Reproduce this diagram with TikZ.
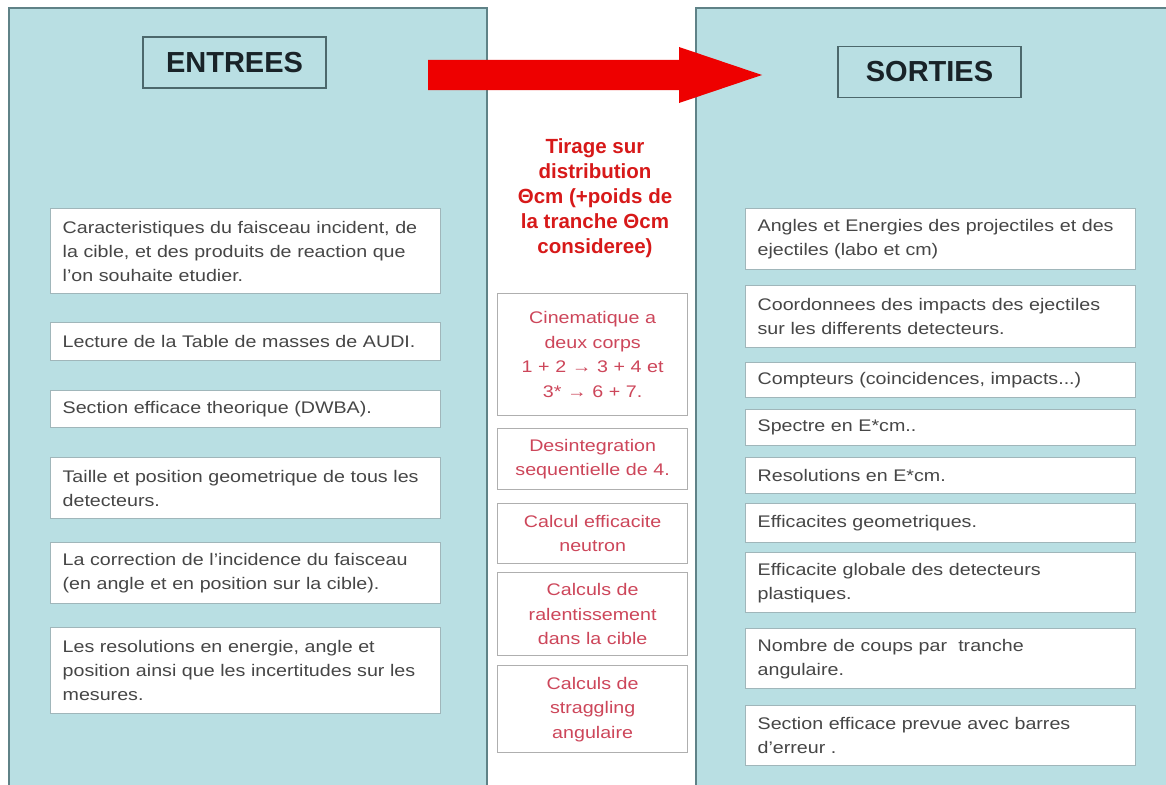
\documentclass[tikz,border=0pt]{standalone}
\usepackage{fontspec}
\setmainfont{Liberation Sans}[FakeStretch=1.17]
\newfontfamily\titlefont{Liberation Sans}
\definecolor{panelblue}{RGB}{185,223,227}
\definecolor{panelline}{RGB}{95,130,135}
\definecolor{boxline}{RGB}{160,182,186}
\definecolor{boxtext}{RGB}{70,70,70}
\definecolor{midline}{RGB}{175,175,175}
\definecolor{midtext}{RGB}{205,70,90}
\definecolor{titlered}{RGB}{215,25,25}
\definecolor{arrowred}{RGB}{238,0,0}
\definecolor{hdrtext}{RGB}{25,35,40}
\tikzset{
  panel/.style={fill=panelblue,draw=panelline,line width=1.6pt},
  hdr/.style={fill=panelblue,draw=panelline!80!black,line width=1.4pt,minimum width=183,minimum height=51,inner sep=0pt,font=\titlefont\bfseries\fontsize{29}{32}\selectfont,text=hdrtext},
  ebox/.style={fill=white,draw=boxline,line width=1.3pt,anchor=north west,minimum width=390,text width=366,inner xsep=12pt,inner ysep=0pt,align=left,font=\fontsize{16.8}{24}\selectfont,text=boxtext},
  mbox/.style={fill=white,draw=midline,line width=1.3pt,anchor=north west,minimum width=190,text width=182,inner xsep=4pt,inner ysep=0pt,align=center,font=\fontsize{16.8}{24.5}\selectfont,text=midtext},
  ttl/.style={align=center,font=\titlefont\bfseries\fontsize{20.5}{25}\selectfont,text=titlered}
}
\begin{document}
\begin{tikzpicture}[x=1pt,y=-1pt]
\useasboundingbox (0,0) rectangle (1166,784);
\clip (0,0) rectangle (1166,784);
\fill[white] (0,0) rectangle (1166,784);
% panels
\draw[panel] (9,8) rectangle (487,800);
\draw[panel] (696,8) rectangle (1180,800);
% headers
\node[hdr] (hdrE) at (234.5,62.5) {ENTREES};
\node[hdr] (hdrS) at (929.5,72) {SORTIES};
% red block arrow
\fill[arrowred] (428,60) -- (679,60) -- (679,47) -- (762,75) -- (679,103) -- (679,90) -- (428,90) -- cycle;
% inputs
\node[ebox,minimum height=85] (e1) at (50,208) {Caracteristiques du faisceau incident, de\\la cible, et des produits de reaction que\\l'on souhaite etudier.};
\node[ebox,minimum height=38] (e2) at (50,322) {Lecture de la Table de masses de AUDI.};
\node[ebox,minimum height=37] (e3) at (50,390) {Section efficace theorique (DWBA).};
\node[ebox,minimum height=61] (e4) at (50,457) {Taille et position geometrique de tous les\\detecteurs.};
\node[ebox,minimum height=61] (e5) at (50,542) {La correction de l'incidence du faisceau\\(en angle et en position sur la cible).};
\node[ebox,minimum height=86] (e6) at (50,627) {Les resolutions en energie, angle et\\position ainsi que les incertitudes sur les\\mesures.};
% middle
\node[ttl] (title) at (595,198) {Tirage sur\\distribution\\Θcm (+poids de\\la tranche Θcm\\consideree)};
\node[mbox,minimum height=122] (m1) at (497,293) {Cinematique a\\deux corps\\1 + 2 → 3 + 4 et\\3* → 6 + 7.};
\node[mbox,minimum height=61] (m2) at (497,428) {Desintegration\\sequentielle de 4.};
\node[mbox,minimum height=60] (m3) at (497,503) {Calcul efficacite\\neutron};
\node[mbox,minimum height=83] (m4) at (497,572) {Calculs de\\ralentissement\\dans la cible};
\node[mbox,minimum height=87] (m5) at (497,665) {Calculs de\\straggling\\angulaire};
% outputs
\node[ebox,minimum height=61] (s1) at (745,208) {Angles et Energies des projectiles et des\\ejectiles (labo et cm)};
\node[ebox,minimum height=62] (s2) at (745,285) {Coordonnees des impacts des ejectiles\\sur les differents detecteurs.};
\node[ebox,minimum height=35] (s3) at (745,362) {Compteurs (coincidences, impacts...)};
\node[ebox,minimum height=36] (s4) at (745,409) {Spectre en E*cm..};
\node[ebox,minimum height=36] (s5) at (745,457) {Resolutions en E*cm.};
\node[ebox,minimum height=39] (s6) at (745,503) {Efficacites geometriques.};
\node[ebox,minimum height=60] (s7) at (745,552) {Efficacite globale des detecteurs\\plastiques.};
\node[ebox,minimum height=60] (s8) at (745,628) {Nombre de coups par \ tranche\\angulaire.};
\node[ebox,minimum height=60] (s9) at (745,705) {Section efficace prevue avec barres\\d'erreur .};
\end{tikzpicture}
\end{document}
